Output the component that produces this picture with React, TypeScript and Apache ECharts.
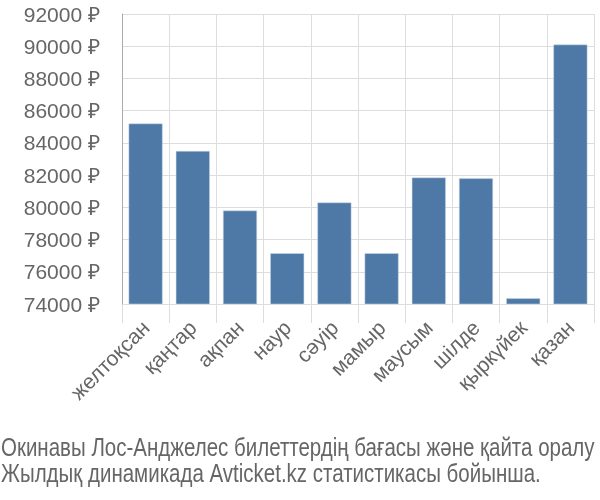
import React, { useEffect, useRef } from "react";
import * as echarts from "echarts";

const categories = ["желтоқсан", "қаңтар", "ақпан", "наур", "сәуір", "мамыр", "маусым", "шілде", "қыркүйек", "қазан"];
const prices = [85200, 83500, 79800, 77150, 80300, 77150, 81850, 81800, 74350, 90100];
const titleLines = [
  "Окинавы Лос-Анджелес билеттердің бағасы және қайта оралу",
  "Жылдық динамикада Avticket.kz статистикасы бойынша.",
];

export default function App() {
  const ref = useRef<HTMLDivElement>(null);
  useEffect(() => {
    const chart = echarts.init(ref.current!, null, { renderer: "svg" });
    chart.setOption({
      animation: false,
      graphic: titleLines.map((t, i) => ({
        type: "text",
        x: 1,
        y: 447 + i * 26,
        scaleX: 0.82,
        style: {
          text: t,
          fontFamily: "Liberation Sans",
          fontSize: 25,
          fill: "#666",
          textVerticalAlign: "middle",
        },
      })),
      grid: { left: 122, right: 6, top: 14, bottom: 196 },
      xAxis: {
        type: "category",
        data: categories,
        boundaryGap: true,
        axisLine: { show: true, lineStyle: { color: "#ddd" } },
        axisTick: { show: true, length: 19, lineStyle: { color: "#ddd" } },
        splitLine: { show: true, lineStyle: { color: "#ddd" } },
        axisLabel: {
          rotate: 45,
          margin: 20,
          fontFamily: "Liberation Sans",
          fontSize: 21,
          color: "#666",
        },
      },
      yAxis: {
        type: "value",
        min: 74000,
        max: 92000,
        interval: 2000,
        axisLine: { show: true, lineStyle: { color: "#aaa" } },
        axisTick: { show: false },
        splitLine: { show: true, lineStyle: { color: "#ddd" } },
        axisLabel: {
          formatter: (v: number) => `${v} ₽`,
          fontFamily: "Liberation Sans",
          fontSize: 21,
          color: "#666",
          margin: 22,
        },
      },
      series: [
        {
          type: "bar",
          data: prices,
          barCategoryGap: "28%",
          itemStyle: { color: "#4e79a7", borderColor: "#d0dbe8", borderWidth: 0.5 },
        },
      ],
    });
    return () => chart.dispose();
  }, []);
  return <div ref={ref} style={{ width: 600, height: 500, position: "fixed", left: 0, top: 0 }} />;
}
